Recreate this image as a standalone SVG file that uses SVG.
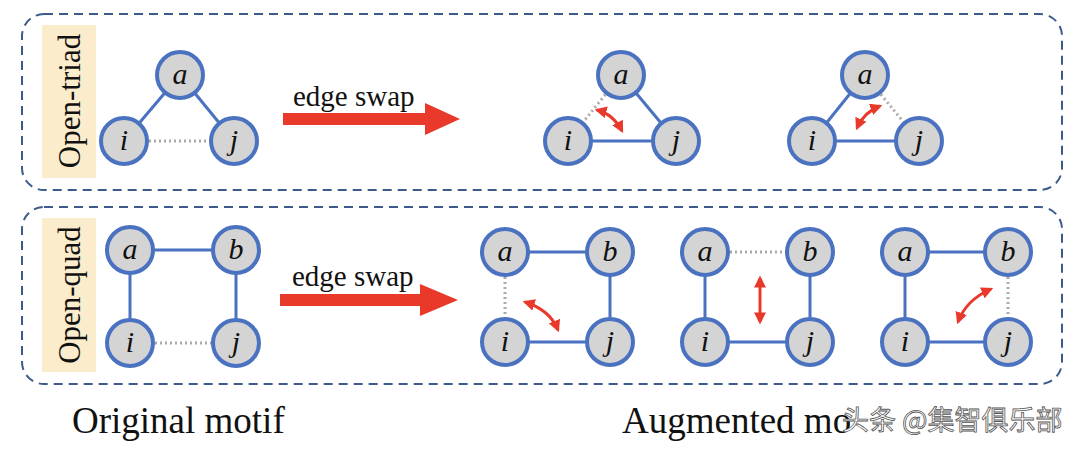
<svg xmlns="http://www.w3.org/2000/svg" width="1080" height="451" viewBox="0 0 1080 451">
<defs>
<marker id="rh" viewBox="0 0 10 10" refX="8" refY="5" markerWidth="4" markerHeight="4" orient="auto-start-reverse"><path d="M0,0 L10,5 L0,10 z" fill="#e8392b"/></marker>
<style>
.box{fill:none;stroke:#3d5a8c;stroke-width:2;stroke-dasharray:9 6}
.lab{fill:#fbeccb}
.n circle{fill:#d4d4d4;stroke:#4a72c0;stroke-width:4}
.n text{font-family:"Liberation Serif","Times New Roman",serif;font-style:italic;font-size:30px;text-anchor:middle;fill:#111}
.e{stroke:#4a72c0;stroke-width:3;fill:none}
.d{stroke:#aaaaaa;stroke-width:3;stroke-dasharray:2 3;fill:none}
.r{stroke:#e8392b;stroke-width:3;fill:none;marker-start:url(#rh);marker-end:url(#rh)}
.t{font-family:"Liberation Serif","Times New Roman",serif;fill:#111}
</style>
</defs>
<rect class="box" x="22" y="14" width="1040" height="176" rx="22"/>
<rect class="box" x="22" y="207" width="1040" height="177" rx="22"/>
<rect class="lab" x="42" y="25" width="54" height="153"/>
<rect class="lab" x="42" y="218" width="54" height="154"/>
<text class="t" font-size="31" transform="translate(80,101) rotate(-90)" text-anchor="middle">Open-triad</text>
<text class="t" font-size="31" transform="translate(80,295) rotate(-90)" text-anchor="middle">Open-quad</text>
<g id="connectors">
<line class="e" x1="180" y1="75" x2="124" y2="141"/><line class="e" x1="180" y1="75" x2="234" y2="141"/><line class="d" x1="124" y1="141" x2="234" y2="141"/>
<line class="d" x1="621" y1="75" x2="568" y2="141"/><line class="e" x1="621" y1="75" x2="676" y2="141"/><line class="e" x1="568" y1="141" x2="676" y2="141"/>
<line class="e" x1="865" y1="75" x2="812" y2="141"/><line class="d" x1="865" y1="75" x2="919" y2="141"/><line class="e" x1="812" y1="141" x2="919" y2="141"/>
<line class="e" x1="130" y1="250" x2="236" y2="250"/><line class="e" x1="130" y1="250" x2="130" y2="343"/><line class="e" x1="236" y1="250" x2="236" y2="343"/><line class="d" x1="130" y1="343" x2="236" y2="343"/>
<line class="e" x1="505" y1="252" x2="610" y2="252"/><line class="d" x1="505" y1="252" x2="505" y2="342"/><line class="e" x1="610" y1="252" x2="610" y2="342"/><line class="e" x1="505" y1="342" x2="610" y2="342"/>
<line class="d" x1="705" y1="252" x2="810" y2="252"/><line class="e" x1="705" y1="252" x2="705" y2="342"/><line class="e" x1="810" y1="252" x2="810" y2="342"/><line class="e" x1="705" y1="342" x2="810" y2="342"/>
<line class="e" x1="905" y1="252" x2="1008" y2="252"/><line class="e" x1="905" y1="252" x2="905" y2="342"/><line class="d" x1="1008" y1="252" x2="1008" y2="342"/><line class="e" x1="905" y1="342" x2="1008" y2="342"/>
<path class="r" d="M597,110 Q613,114 622,131"/>
<path class="r" d="M880,106 Q864,112 857,128"/>
<path class="r" d="M525,302 Q550,310 558,330"/>
<line class="r" x1="760" y1="278" x2="760" y2="322"/>
<path class="r" d="M991,289 Q966,300 958,322"/>
<polygon points="283,113 425,113 425,103 460,119 425,135 425,125 283,125" fill="#e8392b"/>
<polygon points="280,294 420,294 420,284 458,300 420,316 420,306 280,306" fill="#e8392b"/>
</g>
<text class="t" font-size="29" x="293" y="106">edge swap</text>
<text class="t" font-size="29" x="292" y="286">edge swap</text>
<g id="t0" class="n"><circle cx="180" cy="75" r="23"/><text x="180" y="84">a</text></g>
<g id="t1" class="n"><circle cx="124" cy="141" r="23"/><text x="124" y="150">i</text></g>
<g id="t2" class="n"><circle cx="234" cy="141" r="23"/><text x="234" y="150">j</text></g>
<g id="t3" class="n"><circle cx="621" cy="75" r="23"/><text x="621" y="84">a</text></g>
<g id="t4" class="n"><circle cx="568" cy="141" r="23"/><text x="568" y="150">i</text></g>
<g id="t5" class="n"><circle cx="676" cy="141" r="23"/><text x="676" y="150">j</text></g>
<g id="t6" class="n"><circle cx="865" cy="75" r="23"/><text x="865" y="84">a</text></g>
<g id="t7" class="n"><circle cx="812" cy="141" r="23"/><text x="812" y="150">i</text></g>
<g id="t8" class="n"><circle cx="919" cy="141" r="23"/><text x="919" y="150">j</text></g>
<g id="q0" class="n"><circle cx="130" cy="250" r="23"/><text x="130" y="259">a</text></g>
<g id="q1" class="n"><circle cx="236" cy="250" r="23"/><text x="236" y="259">b</text></g>
<g id="q2" class="n"><circle cx="130" cy="343" r="23"/><text x="130" y="352">i</text></g>
<g id="q3" class="n"><circle cx="236" cy="343" r="23"/><text x="236" y="352">j</text></g>
<g id="q4" class="n"><circle cx="505" cy="252" r="23"/><text x="505" y="261">a</text></g>
<g id="q5" class="n"><circle cx="610" cy="252" r="23"/><text x="610" y="261">b</text></g>
<g id="q6" class="n"><circle cx="505" cy="342" r="23"/><text x="505" y="351">i</text></g>
<g id="q7" class="n"><circle cx="610" cy="342" r="23"/><text x="610" y="351">j</text></g>
<g id="q8" class="n"><circle cx="705" cy="252" r="23"/><text x="705" y="261">a</text></g>
<g id="q9" class="n"><circle cx="810" cy="252" r="23"/><text x="810" y="261">b</text></g>
<g id="q10" class="n"><circle cx="705" cy="342" r="23"/><text x="705" y="351">i</text></g>
<g id="q11" class="n"><circle cx="810" cy="342" r="23"/><text x="810" y="351">j</text></g>
<g id="q12" class="n"><circle cx="905" cy="252" r="23"/><text x="905" y="261">a</text></g>
<g id="q13" class="n"><circle cx="1008" cy="252" r="23"/><text x="1008" y="261">b</text></g>
<g id="q14" class="n"><circle cx="905" cy="342" r="23"/><text x="905" y="351">i</text></g>
<g id="q15" class="n"><circle cx="1008" cy="342" r="23"/><text x="1008" y="351">j</text></g>
<text class="t" font-size="37" x="72" y="433">Original motif</text>
<text class="t" font-size="37" x="622" y="433">Augmented mo</text>
<text x="842" y="430" font-size="27" fill="#ffffff" stroke="#555" stroke-width="0.8" font-family="'Noto Sans CJK SC',sans-serif">头条 @集智俱乐部</text>
</svg>
